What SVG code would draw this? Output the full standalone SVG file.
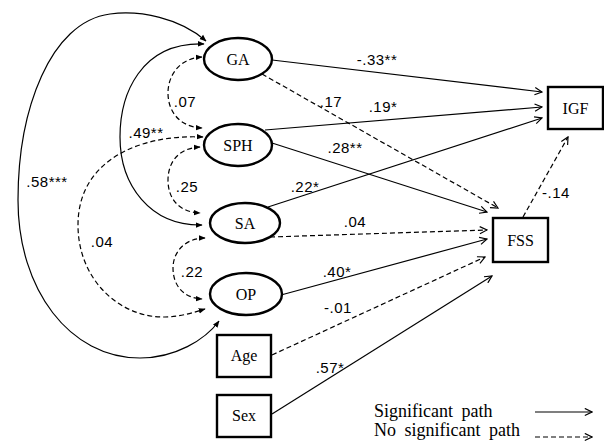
<svg xmlns="http://www.w3.org/2000/svg" width="604" height="443" viewBox="0 0 604 443">
<defs>
<marker id="open" viewBox="0 0 10 10" refX="9" refY="5" markerWidth="9" markerHeight="9" markerUnits="userSpaceOnUse" orient="auto">
<path d="M1,1 L9,5 L1,9" fill="none" stroke="#000" stroke-width="1.3"/>
</marker>
<marker id="fill" viewBox="0 0 10 10" refX="9" refY="5" markerWidth="7" markerHeight="7" markerUnits="userSpaceOnUse" orient="auto-start-reverse">
<path d="M0,1 L10,5 L0,9 Z" fill="#000"/>
</marker>
<style>
.node{fill:#fff;stroke:#000;stroke-width:2.4}
.lbl{font-family:"Liberation Serif","Times New Roman",serif;font-size:16px;text-anchor:middle;fill:#000}
.num{font-family:"Liberation Sans",Arial,sans-serif;font-size:15px;letter-spacing:0.5px;text-anchor:middle;fill:#000}
.leg{font-family:"Liberation Serif","Times New Roman",serif;font-size:18px;word-spacing:4px;fill:#000}
.s{fill:none;stroke:#000;stroke-width:1.2;marker-end:url(#open)}
.d{fill:none;stroke:#000;stroke-width:1.2;stroke-dasharray:5,3;marker-end:url(#open)}
.cs{fill:none;stroke:#000;stroke-width:1.2;marker-start:url(#fill);marker-end:url(#fill)}
.cd{fill:none;stroke:#000;stroke-width:1.2;stroke-dasharray:5,3;marker-start:url(#fill);marker-end:url(#fill)}
</style>
</defs>
<g id="connectors">
<path class="cs" d="M206,41 C180,18 140,10 110,14 C50,22 18,110 18,200 C18,290 70,358 140,358 C175,358 205,340 219,321"/>
<path class="cs" d="M204,44 C140,42 120,95 120,137 C120,185 150,226 202,225"/>
<path class="cd" d="M202,57 C180,58 168,75 168,93 C168,112 180,127 202,128"/>
<path class="cd" d="M200,147 C178,148 168,163 168,180 C168,198 178,212 200,213"/>
<path class="cd" d="M203,137 C140,134 78,160 78,225 C78,280 120,318 165,317 C180,317 195,312 205,309"/>
<path class="cd" d="M205,238 C185,238 173,252 173,268 C173,285 183,298 202,299"/>
<path class="s" d="M272,60 L542,92"/>
<path class="d" d="M262,74 L498,208"/>
<path class="s" d="M265,130 L542,107"/>
<path class="s" d="M272,143 L487,212"/>
<path class="s" d="M268,207 L542,118"/>
<path class="d" d="M270,237 L487,230"/>
<path class="s" d="M281,295 L487,239"/>
<path class="d" d="M272,355 L485,257"/>
<path class="s" d="M272,414 L492,276"/>
<path class="d" d="M523,217 L568,137"/>
<path class="s" d="M535,412 L592,412"/>
<path class="d" d="M535,437 L592,437"/>
</g>
<g id="labels">
<text class="num" x="377" y="65">-.33**</text>
<text class="num" x="331" y="107">.17</text>
<text class="num" x="383" y="112">.19*</text>
<text class="num" x="345" y="153">.28**</text>
<text class="num" x="305" y="192">.22*</text>
<text class="num" x="355" y="227">.04</text>
<text class="num" x="337" y="277">.40*</text>
<text class="num" x="338" y="313">-.01</text>
<text class="num" x="330" y="373">.57*</text>
<text class="num" x="556" y="198">-.14</text>
<text class="num" x="47" y="187">.58***</text>
<text class="num" x="146" y="138">.49**</text>
<text class="num" x="185" y="107">.07</text>
<text class="num" x="187" y="192">.25</text>
<text class="num" x="102" y="247">.04</text>
<text class="num" x="192" y="277">.22</text>
</g>
<g id="GA"><ellipse class="node" cx="238" cy="59" rx="34" ry="21"/><text class="lbl" x="238" y="65">GA</text></g>
<g id="SPH"><ellipse class="node" cx="238" cy="145" rx="34" ry="21"/><text class="lbl" x="238" y="151">SPH</text></g>
<g id="SA"><ellipse class="node" cx="245" cy="223" rx="35" ry="20"/><text class="lbl" x="245" y="229">SA</text></g>
<g id="OP"><ellipse class="node" cx="246" cy="294" rx="36" ry="21"/><text class="lbl" x="246" y="300">OP</text></g>
<g id="Age"><rect class="node" x="217" y="335" width="54" height="42"/><text class="lbl" x="244" y="361">Age</text></g>
<g id="Sex"><rect class="node" x="217" y="395" width="54" height="42"/><text class="lbl" x="244" y="421">Sex</text></g>
<g id="IGF"><rect class="node" x="548" y="87" width="55" height="42"/><text class="lbl" x="575.5" y="114">IGF</text></g>
<g id="FSS"><rect class="node" x="493" y="218" width="55" height="44"/><text class="lbl" x="520.5" y="246">FSS</text></g>
<g id="legend">
<text class="leg" x="374" y="417">Significant path</text>
<text class="leg" x="374" y="436">No significant path</text>
</g>
</svg>
